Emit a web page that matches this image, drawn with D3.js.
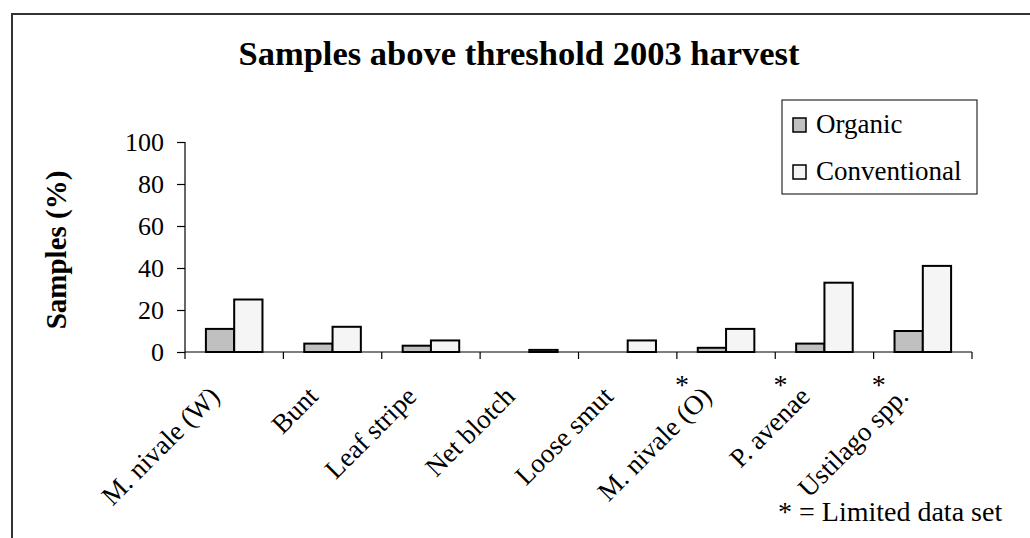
<!DOCTYPE html>
<html>
<head>
<meta charset="utf-8">
<script src="https://cdn.jsdelivr.net/npm/d3@7/dist/d3.min.js"></script>
<style>
  html, body { margin: 0; padding: 0; background: #fff; }
  svg { display: block; font-family: "Liberation Serif", "Times New Roman", serif; }
</style>
</head>
<body>
<svg id="chart" width="1030" height="538"></svg>
<script>
const categories = ["M. nivale (W)", "Bunt", "Leaf stripe", "Net blotch", "Loose smut", "M. nivale (O)", "P. avenae", "Ustilago spp."];
const limited = ["M. nivale (O)", "P. avenae", "Ustilago spp."];
const seriesNames = ["Organic", "Conventional"];
const organic = [11, 4, 3, 0, 0, 2, 4, 10];
const conventional = [25, 12, 5.5, 1, 5.5, 11, 33, 41];
const yTicks = [0, 20, 40, 60, 80, 100];
const colors = ["#c0c0c0", "#f5f5f5"];

const svg = d3.select("#chart");

// outer frame
svg.append("path")
  .attr("d", "M12,538 L12,14 L1030,14")
  .attr("fill", "none").attr("stroke", "#333").attr("stroke-width", 2);

const plotL = 185, plotR = 972, plotT = 142, plotB = 352;

const x0 = d3.scaleBand().domain(categories).range([plotL, plotR]).paddingInner(0.425).paddingOuter(0.2125);
const x1 = d3.scaleBand().domain(seriesNames).range([0, x0.bandwidth()]);
const y = d3.scaleLinear().domain([0, 100]).range([plotB, plotT]);

const data = categories.map((c, i) => ({ cat: c, vals: [organic[i], conventional[i]] }));

// bars
const g = svg.append("g");
g.selectAll("g.cat").data(data).join("g")
  .attr("transform", d => `translate(${x0(d.cat)},0)`)
  .selectAll("rect").data(d => d.vals.map((v, j) => ({ v, j })).filter(e => e.v > 0)).join("rect")
  .attr("x", e => x1(seriesNames[e.j]))
  .attr("y", e => y(e.v))
  .attr("width", x1.bandwidth())
  .attr("height", e => y(0) - y(e.v))
  .attr("fill", e => colors[e.j])
  .attr("stroke", "#000").attr("stroke-width", 2);

// y axis
const yAxis = d3.axisLeft(y).tickValues(yTicks).tickSize(8).tickPadding(13);
const ya = svg.append("g").attr("transform", `translate(${plotL},0)`).call(yAxis);
ya.select(".domain").attr("stroke", "#000").attr("stroke-width", 1.2).attr("d", `M0,${plotT}V${plotB}`);
ya.selectAll(".tick line").attr("stroke", "#000").attr("stroke-width", 1.2);
ya.selectAll(".tick text").attr("font-size", 26).attr("fill", "#000")
  .attr("font-family", "Liberation Serif, serif").attr("dy", "0.34em");

// x axis line and ticks at category boundaries
const step = x0.step();
const boundaries = d3.range(categories.length + 1).map(i => plotL + i * step);
svg.append("line").attr("x1", plotL).attr("x2", plotR).attr("y1", plotB).attr("y2", plotB)
  .attr("stroke", "#000").attr("stroke-width", 1.2);
svg.selectAll("line.xt").data(boundaries).join("line").attr("class", "xt")
  .attr("x1", d => d).attr("x2", d => d).attr("y1", plotB).attr("y2", plotB + 7)
  .attr("stroke", "#000").attr("stroke-width", 1.2);

// x labels
svg.selectAll("text.xl").data(categories).join("text").attr("class", "xl")
  .attr("transform", d => `translate(${x0(d) + x0.bandwidth() / 2 - 13},${plotB + 46}) rotate(-45)`)
  .attr("text-anchor", "end").attr("font-size", 27).attr("fill", "#000")
  .text(d => d);

// asterisks
svg.selectAll("text.ast").data(limited).join("text").attr("class", "ast")
  .attr("x", d => x0(d) + x0.bandwidth() / 2 - 44)
  .attr("y", plotB + 42)
  .attr("text-anchor", "middle").attr("font-size", 28).attr("fill", "#000")
  .text("*");

// note
svg.append("text").attr("x", 778).attr("y", 521).attr("font-size", 28).attr("fill", "#000")
  .text("* = Limited data set");

// title
svg.append("text").attr("x", 519).attr("y", 65).attr("text-anchor", "middle")
  .attr("font-size", 34.5).attr("font-weight", "bold").attr("fill", "#000")
  .text("Samples above threshold 2003 harvest");

// y title
svg.append("text").attr("transform", `translate(66,250) rotate(-90)`)
  .attr("text-anchor", "middle").attr("font-size", 29).attr("font-weight", "bold").attr("fill", "#000")
  .text("Samples (%)");

// legend
const lg = svg.append("g");
lg.append("rect").attr("x", 782).attr("y", 100).attr("width", 195).attr("height", 94)
  .attr("fill", "#fff").attr("stroke", "#000").attr("stroke-width", 1);
const legendY = [133, 180];
seriesNames.forEach((s, i) => {
  lg.append("rect").attr("x", 793).attr("y", legendY[i] - 15).attr("width", 13).attr("height", 14)
    .attr("fill", colors[i]).attr("stroke", "#000").attr("stroke-width", 1.5);
  lg.append("text").attr("x", 816).attr("y", legendY[i]).attr("font-size", 27).attr("fill", "#000").text(s);
});
</script>
</body>
</html>
